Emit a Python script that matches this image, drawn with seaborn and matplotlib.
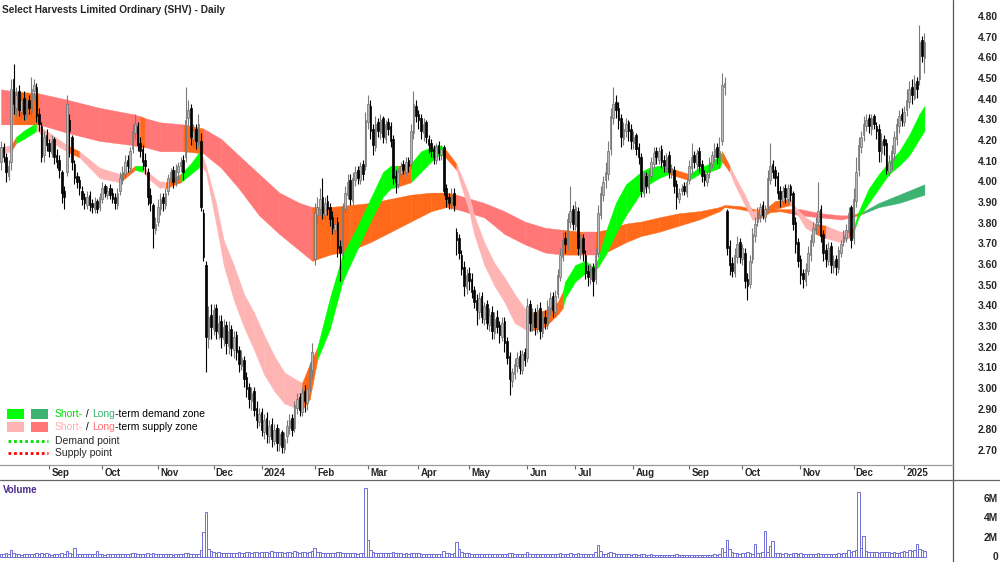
import numpy as np
import pandas as pd
import matplotlib
matplotlib.use("Agg")
import matplotlib.pyplot as plt
import seaborn as sns
from matplotlib.lines import Line2D
from matplotlib.patches import Rectangle
from matplotlib.transforms import blended_transform_factory

# trading calendar (ASX)
first_day = "2023-08-07"
last_day = "2025-01-14"
asx_holidays = ["2023-12-25", "2023-12-26", "2024-01-01", "2024-01-26", "2024-03-29",
                "2024-04-01", "2024-04-25", "2024-06-10", "2024-12-25", "2024-12-26",
                "2025-01-01"]

# daily OHLC
opens = [
    4.10, 4.17, 4.12, 4.03, 4.10, 4.50, 4.36, 4.44, 4.34, 4.41,
    4.32, 4.40, 4.34, 4.44, 4.46, 4.33, 4.27, 4.13, 4.23, 4.19,
    4.14, 4.21, 4.13, 4.11, 4.05, 3.96, 4.05, 4.30, 4.22, 4.09,
    4.03, 4.01, 3.96, 3.93, 3.89, 3.94, 3.90, 3.87, 3.91, 3.88,
    3.92, 3.98, 3.94, 3.97, 3.95, 3.93, 3.89, 3.96, 4.01, 4.04,
    4.11, 4.07, 4.16, 4.24, 4.27, 4.19, 4.16, 4.11, 4.05, 3.94,
    3.89, 3.77, 3.81, 3.87, 3.93, 3.89, 3.96, 4.01, 4.06, 4.00,
    4.05, 4.08, 4.11, 4.12, 4.31, 4.36, 4.21, 4.26, 4.19, 4.20,
    3.85, 3.60, 3.24, 3.36, 3.29, 3.39, 3.27, 3.33, 3.24, 3.31,
    3.21, 3.29, 3.19, 3.26, 3.19, 3.11, 3.14, 3.06, 3.01, 2.94,
    2.99, 2.91, 2.84, 2.89, 2.79, 2.86, 2.77, 2.83, 2.75, 2.81,
    2.73, 2.79, 2.71, 2.77, 2.81, 2.86, 2.81, 2.91, 2.96, 2.89,
    2.99, 2.93, 3.01, 3.09, 3.63, 3.84, 3.87, 3.93, 3.84, 3.91,
    3.88, 3.83, 3.77, 3.81, 3.69, 3.65, 3.87, 3.94, 4.01, 3.91,
    4.01, 4.06, 4.01, 4.09, 4.08, 4.29, 4.37, 4.26, 4.17, 4.29,
    4.24, 4.31, 4.21, 4.29, 4.27, 4.21, 4.03, 3.99, 4.04, 4.09,
    4.05, 4.11, 4.09, 4.24, 4.37, 4.33, 4.31, 4.24, 4.29, 4.21,
    4.19, 4.16, 4.11, 4.18, 4.13, 4.17, 3.97, 3.93, 3.89, 3.95,
    3.76, 3.73, 3.65, 3.59, 3.49, 3.56, 3.53, 3.48, 3.43, 3.37,
    3.45, 3.34, 3.41, 3.31, 3.37, 3.27, 3.35, 3.31, 3.25, 3.33,
    3.23, 3.16, 3.04, 3.07, 3.11, 3.16, 3.09, 3.18, 3.15, 3.41,
    3.31, 3.37, 3.29, 3.39, 3.27, 3.35, 3.31, 3.39, 3.45, 3.37,
    3.46, 3.54, 3.64, 3.73, 3.69, 3.81, 3.87, 3.79, 3.86, 3.67,
    3.73, 3.65, 3.57, 3.53, 3.59, 3.53, 3.66, 3.84, 3.94, 4.01,
    4.04, 4.16, 4.31, 4.39, 4.36, 4.31, 4.21, 4.25, 4.29, 4.26,
    4.19, 4.23, 4.17, 4.12, 3.95, 4.03, 3.97, 4.03, 4.09, 4.15,
    4.11, 4.16, 4.11, 4.07, 4.13, 4.04, 4.06, 3.99, 3.92, 3.96,
    3.98, 3.95, 4.01, 4.07, 4.13, 4.09, 4.15, 4.09, 4.04, 4.00,
    4.05, 4.09, 4.12, 4.17, 4.11, 4.20, 4.46, 3.86, 3.69, 3.61,
    3.56, 3.64, 3.71, 3.63, 3.66, 3.53, 3.51, 3.63, 3.74, 3.81,
    3.84, 3.89, 3.83, 3.88, 4.01, 4.09, 4.06, 4.03, 3.96, 3.91,
    3.97, 3.92, 3.98, 3.95, 3.81, 3.71, 3.63, 3.56, 3.52, 3.57,
    3.65, 3.71, 3.77, 3.81, 3.87, 3.75, 3.67, 3.62, 3.69, 3.59,
    3.63, 3.58, 3.66, 3.71, 3.73, 3.76, 3.88, 3.73, 3.91, 4.06,
    4.17, 4.23, 4.27, 4.31, 4.26, 4.32, 4.27, 4.26, 4.14, 4.21,
    4.19, 4.05, 4.09, 4.14, 4.21, 4.27, 4.33, 4.29, 4.35, 4.39,
    4.46, 4.41, 4.49, 4.50, 4.69, 4.60,
]
highs = [
    4.20, 4.19, 4.14, 4.11, 4.50, 4.57, 4.46, 4.47, 4.43, 4.44,
    4.41, 4.42, 4.51, 4.50, 4.48, 4.36, 4.29, 4.25, 4.26, 4.21,
    4.23, 4.22, 4.16, 4.13, 4.06, 3.98, 4.42, 4.33, 4.23, 4.11,
    4.05, 4.03, 3.98, 3.95, 3.96, 3.96, 3.92, 3.93, 3.92, 3.95,
    4.00, 3.99, 3.98, 3.99, 3.97, 3.95, 3.97, 4.05, 4.08, 4.13,
    4.13, 4.17, 4.28, 4.33, 4.29, 4.22, 4.18, 4.14, 4.07, 3.97,
    3.90, 3.83, 3.92, 3.95, 3.95, 3.97, 4.04, 4.07, 4.08, 4.09,
    4.10, 4.12, 4.13, 4.46, 4.40, 4.38, 4.28, 4.28, 4.33, 4.24,
    3.87, 3.62, 3.40, 3.41, 3.41, 3.41, 3.36, 3.36, 3.34, 3.33,
    3.33, 3.31, 3.28, 3.28, 3.21, 3.19, 3.16, 3.08, 3.03, 3.01,
    3.01, 2.94, 2.91, 2.91, 2.88, 2.89, 2.85, 2.86, 2.83, 2.83,
    2.81, 2.80, 2.79, 2.85, 2.88, 2.88, 2.94, 2.98, 2.98, 3.01,
    3.02, 3.03, 3.13, 3.22, 3.90, 3.93, 3.97, 4.02, 3.93, 3.94,
    3.90, 3.86, 3.83, 3.83, 3.72, 3.90, 3.98, 4.04, 4.04, 4.05,
    4.08, 4.08, 4.10, 4.11, 4.34, 4.42, 4.40, 4.28, 4.32, 4.31,
    4.33, 4.32, 4.30, 4.31, 4.29, 4.23, 4.06, 4.07, 4.10, 4.11,
    4.12, 4.12, 4.28, 4.44, 4.40, 4.35, 4.33, 4.31, 4.30, 4.23,
    4.21, 4.18, 4.19, 4.20, 4.18, 4.18, 3.99, 3.95, 3.97, 3.97,
    3.78, 3.75, 3.67, 3.62, 3.58, 3.59, 3.56, 3.50, 3.46, 3.47,
    3.47, 3.42, 3.43, 3.39, 3.40, 3.37, 3.38, 3.33, 3.35, 3.35,
    3.25, 3.18, 3.10, 3.15, 3.18, 3.19, 3.19, 3.20, 3.44, 3.43,
    3.39, 3.39, 3.41, 3.42, 3.37, 3.38, 3.43, 3.47, 3.47, 3.48,
    3.58, 3.68, 3.76, 3.76, 3.85, 3.98, 3.89, 3.91, 3.88, 3.75,
    3.75, 3.67, 3.60, 3.61, 3.61, 3.68, 3.89, 3.98, 4.03, 4.10,
    4.20, 4.36, 4.46, 4.42, 4.39, 4.33, 4.29, 4.31, 4.30, 4.28,
    4.25, 4.24, 4.19, 4.14, 4.05, 4.05, 4.06, 4.12, 4.17, 4.17,
    4.17, 4.18, 4.13, 4.14, 4.15, 4.09, 4.08, 4.01, 3.97, 3.99,
    4.00, 4.02, 4.11, 4.19, 4.15, 4.16, 4.17, 4.11, 4.06, 4.06,
    4.12, 4.15, 4.19, 4.19, 4.22, 4.53, 4.51, 3.87, 3.72, 3.64,
    3.68, 3.74, 3.73, 3.70, 3.68, 3.56, 3.65, 3.78, 3.83, 3.88,
    3.90, 3.91, 3.89, 4.06, 4.19, 4.11, 4.08, 4.05, 3.98, 3.98,
    3.99, 3.99, 3.99, 3.96, 3.83, 3.73, 3.65, 3.58, 3.61, 3.69,
    3.75, 3.81, 3.83, 4.00, 3.89, 3.77, 3.70, 3.71, 3.71, 3.65,
    3.65, 3.69, 3.72, 3.77, 3.80, 3.88, 3.89, 3.97, 4.12, 4.22,
    4.25, 4.32, 4.33, 4.33, 4.33, 4.33, 4.29, 4.28, 4.24, 4.23,
    4.21, 4.13, 4.18, 4.25, 4.31, 4.35, 4.36, 4.37, 4.45, 4.49,
    4.50, 4.52, 4.51, 4.76, 4.71, 4.72,
]
lows = [
    4.06, 4.10, 4.00, 4.01, 4.06, 4.33, 4.32, 4.32, 4.31, 4.30,
    4.30, 4.33, 4.32, 4.40, 4.29, 4.25, 4.10, 4.10, 4.15, 4.12,
    4.12, 4.09, 4.07, 4.02, 3.90, 3.87, 4.03, 4.12, 4.06, 3.99,
    3.97, 3.94, 3.89, 3.87, 3.87, 3.86, 3.85, 3.85, 3.85, 3.86,
    3.90, 3.93, 3.92, 3.92, 3.90, 3.87, 3.87, 3.94, 3.99, 4.02,
    4.05, 4.05, 4.14, 4.21, 4.15, 4.12, 4.06, 4.04, 3.89, 3.86,
    3.68, 3.75, 3.79, 3.84, 3.86, 3.87, 3.94, 3.99, 3.97, 3.98,
    4.01, 4.05, 4.01, 4.10, 4.27, 4.18, 4.17, 4.16, 4.17, 3.86,
    3.62, 3.08, 3.20, 3.24, 3.26, 3.24, 3.24, 3.20, 3.21, 3.17,
    3.17, 3.16, 3.15, 3.14, 3.08, 3.09, 3.01, 2.96, 2.91, 2.90,
    2.87, 2.81, 2.82, 2.77, 2.76, 2.74, 2.74, 2.72, 2.73, 2.70,
    2.70, 2.69, 2.69, 2.74, 2.78, 2.77, 2.79, 2.88, 2.87, 2.87,
    2.89, 2.90, 2.99, 3.06, 3.60, 3.80, 3.84, 3.82, 3.82, 3.84,
    3.79, 3.75, 3.75, 3.64, 3.52, 3.63, 3.85, 3.92, 3.89, 3.89,
    3.98, 3.99, 3.99, 4.01, 4.06, 4.26, 4.21, 4.13, 4.15, 4.22,
    4.21, 4.19, 4.19, 4.23, 4.17, 3.99, 3.95, 3.97, 4.02, 4.04,
    4.03, 4.05, 4.07, 4.21, 4.29, 4.26, 4.21, 4.20, 4.19, 4.14,
    4.12, 4.09, 4.09, 4.11, 4.11, 3.94, 3.88, 3.87, 3.87, 3.86,
    3.65, 3.63, 3.55, 3.45, 3.46, 3.48, 3.44, 3.39, 3.31, 3.34,
    3.32, 3.31, 3.29, 3.28, 3.24, 3.24, 3.27, 3.22, 3.23, 3.18,
    3.12, 2.97, 3.01, 3.05, 3.08, 3.07, 3.07, 3.11, 3.13, 3.28,
    3.28, 3.26, 3.27, 3.24, 3.25, 3.29, 3.29, 3.36, 3.35, 3.35,
    3.44, 3.52, 3.62, 3.66, 3.67, 3.78, 3.77, 3.77, 3.65, 3.63,
    3.62, 3.53, 3.50, 3.51, 3.45, 3.51, 3.64, 3.82, 3.91, 3.97,
    4.01, 4.13, 4.28, 4.31, 4.26, 4.17, 4.18, 4.22, 4.20, 4.16,
    4.16, 4.13, 4.09, 3.93, 3.93, 3.95, 3.95, 4.01, 4.07, 4.09,
    4.09, 4.07, 4.05, 4.05, 4.02, 4.02, 3.95, 3.87, 3.90, 3.94,
    3.94, 3.93, 3.99, 4.04, 4.07, 4.06, 4.05, 4.00, 3.98, 3.98,
    4.02, 4.07, 4.10, 4.09, 4.07, 4.18, 4.42, 3.65, 3.55, 3.54,
    3.54, 3.61, 3.61, 3.60, 3.49, 3.43, 3.49, 3.61, 3.71, 3.79,
    3.81, 3.82, 3.81, 3.86, 3.99, 4.02, 3.98, 3.92, 3.88, 3.89,
    3.90, 3.90, 3.91, 3.77, 3.66, 3.59, 3.51, 3.49, 3.50, 3.55,
    3.62, 3.69, 3.75, 3.79, 3.71, 3.62, 3.59, 3.60, 3.56, 3.56,
    3.55, 3.56, 3.64, 3.69, 3.71, 3.74, 3.68, 3.70, 3.88, 4.03,
    4.14, 4.20, 4.25, 4.24, 4.23, 4.26, 4.21, 4.10, 4.10, 4.13,
    4.04, 4.03, 4.06, 4.11, 4.18, 4.24, 4.27, 4.27, 4.32, 4.36,
    4.38, 4.40, 4.41, 4.47, 4.58, 4.53,
]
closes = [
    4.17, 4.12, 4.05, 4.08, 4.45, 4.38, 4.42, 4.35, 4.40, 4.33,
    4.38, 4.36, 4.45, 4.47, 4.32, 4.28, 4.12, 4.22, 4.18, 4.15,
    4.20, 4.12, 4.10, 4.06, 3.95, 3.93, 4.38, 4.25, 4.10, 4.02,
    4.00, 3.97, 3.92, 3.90, 3.93, 3.89, 3.88, 3.90, 3.87, 3.93,
    3.97, 3.95, 3.96, 3.94, 3.92, 3.90, 3.95, 4.02, 4.05, 4.10,
    4.08, 4.15, 4.25, 4.28, 4.18, 4.15, 4.10, 4.08, 3.93, 3.90,
    3.78, 3.80, 3.88, 3.92, 3.90, 3.95, 4.02, 4.05, 4.00, 4.06,
    4.08, 4.10, 4.05, 4.30, 4.35, 4.22, 4.25, 4.20, 4.28, 3.88,
    3.64, 3.25, 3.35, 3.30, 3.38, 3.28, 3.32, 3.25, 3.30, 3.22,
    3.28, 3.20, 3.25, 3.18, 3.12, 3.15, 3.05, 3.00, 2.95, 2.98,
    2.90, 2.85, 2.88, 2.80, 2.85, 2.78, 2.82, 2.76, 2.80, 2.74,
    2.78, 2.72, 2.76, 2.82, 2.85, 2.80, 2.92, 2.95, 2.90, 2.98,
    2.94, 3.00, 3.10, 3.18, 3.85, 3.88, 3.92, 3.85, 3.90, 3.87,
    3.82, 3.78, 3.80, 3.68, 3.66, 3.88, 3.95, 4.00, 3.92, 4.02,
    4.05, 4.02, 4.08, 4.04, 4.30, 4.38, 4.25, 4.18, 4.28, 4.25,
    4.30, 4.22, 4.28, 4.26, 4.20, 4.02, 4.00, 4.05, 4.08, 4.06,
    4.10, 4.08, 4.25, 4.38, 4.32, 4.30, 4.25, 4.28, 4.22, 4.18,
    4.15, 4.12, 4.17, 4.14, 4.16, 3.96, 3.92, 3.90, 3.94, 3.89,
    3.72, 3.66, 3.58, 3.50, 3.55, 3.52, 3.47, 3.42, 3.38, 3.44,
    3.35, 3.40, 3.32, 3.36, 3.28, 3.34, 3.30, 3.26, 3.32, 3.22,
    3.15, 3.05, 3.08, 3.12, 3.15, 3.10, 3.17, 3.14, 3.40, 3.32,
    3.36, 3.30, 3.38, 3.28, 3.34, 3.32, 3.40, 3.44, 3.38, 3.45,
    3.55, 3.65, 3.72, 3.70, 3.82, 3.86, 3.80, 3.88, 3.68, 3.72,
    3.66, 3.56, 3.54, 3.58, 3.52, 3.65, 3.85, 3.95, 4.00, 4.05,
    4.15, 4.32, 4.38, 4.35, 4.30, 4.22, 4.26, 4.28, 4.25, 4.20,
    4.22, 4.16, 4.12, 3.96, 4.02, 3.98, 4.04, 4.10, 4.14, 4.12,
    4.15, 4.10, 4.08, 4.12, 4.05, 4.07, 3.98, 3.93, 3.95, 3.97,
    3.96, 4.00, 4.08, 4.12, 4.10, 4.14, 4.08, 4.03, 4.01, 4.04,
    4.10, 4.13, 4.16, 4.12, 4.15, 4.47, 4.48, 3.68, 3.60, 3.57,
    3.65, 3.70, 3.64, 3.68, 3.52, 3.50, 3.62, 3.75, 3.80, 3.85,
    3.88, 3.84, 3.87, 4.02, 4.08, 4.05, 4.02, 3.95, 3.92, 3.96,
    3.93, 3.97, 3.94, 3.80, 3.70, 3.62, 3.55, 3.53, 3.58, 3.66,
    3.72, 3.78, 3.80, 3.86, 3.74, 3.66, 3.63, 3.68, 3.60, 3.62,
    3.59, 3.67, 3.70, 3.74, 3.77, 3.85, 3.72, 3.92, 4.05, 4.18,
    4.22, 4.28, 4.30, 4.27, 4.31, 4.28, 4.25, 4.15, 4.20, 4.18,
    4.06, 4.10, 4.15, 4.22, 4.28, 4.32, 4.30, 4.34, 4.40, 4.45,
    4.42, 4.48, 4.45, 4.68, 4.61, 4.68,
]
# daily volume, millions of shares
volume_m = [
    0.35, 0.30, 0.42, 0.28, 0.75, 0.45, 0.32, 0.30, 0.25, 0.28,
    0.30, 0.26, 0.35, 0.30, 0.38, 0.33, 0.45, 0.30, 0.40, 0.28,
    0.25, 0.30, 0.27, 0.32, 0.38, 0.35, 0.60, 0.40, 0.32, 0.90,
    0.30, 0.28, 0.33, 0.26, 0.30, 0.28, 0.32, 0.35, 0.60, 0.30,
    0.28, 0.25, 0.30, 0.27, 0.32, 0.29, 0.26, 0.30, 0.33, 0.28,
    0.31, 0.35, 0.40, 0.36, 0.30, 0.28, 0.32, 0.30, 0.38, 0.34,
    0.45, 0.30, 0.28, 0.26, 0.30, 0.27, 0.29, 0.31, 0.25, 0.28,
    0.30, 0.26, 0.28, 0.45, 0.38, 0.32, 0.30, 0.28, 0.35, 0.70,
    2.60, 4.60, 0.85, 0.60, 0.50, 0.45, 0.48, 0.40, 0.45, 0.42,
    0.40, 0.45, 0.38, 0.42, 0.50, 0.44, 0.46, 0.52, 0.48, 0.45,
    0.50, 0.47, 0.43, 0.55, 0.48, 0.50, 0.45, 0.60, 0.52, 0.48,
    0.55, 0.50, 0.46, 0.52, 0.48, 0.44, 0.58, 0.50, 0.45, 0.48,
    0.52, 0.46, 0.55, 0.60, 0.95, 0.55, 0.48, 0.42, 0.45, 0.40,
    0.42, 0.38, 0.40, 0.50, 0.55, 0.45, 0.40, 0.42, 0.38, 0.40,
    0.38, 0.35, 0.40, 0.42, 7.10, 1.80, 0.70, 0.50, 0.45, 0.42,
    0.40, 0.38, 0.42, 0.36, 0.40, 0.55, 0.45, 0.40, 0.38, 0.35,
    0.36, 0.34, 0.40, 0.45, 0.42, 0.38, 0.35, 0.33, 0.30, 0.34,
    0.32, 0.30, 0.28, 0.31, 0.33, 0.60, 0.45, 0.38, 0.35, 0.40,
    1.50, 0.80, 0.55, 0.45, 0.40, 0.38, 0.35, 0.33, 0.30, 0.28,
    0.30, 0.27, 0.32, 0.29, 0.31, 0.28, 0.26, 0.30, 0.27, 0.33,
    0.35, 0.45, 0.38, 0.30, 0.28, 0.26, 0.30, 0.28, 0.55, 0.35,
    0.30, 0.27, 0.32, 0.28, 0.30, 0.26, 0.29, 0.31, 0.27, 0.30,
    0.35, 0.40, 0.33, 0.30, 0.35, 0.42, 0.32, 0.30, 0.38, 0.30,
    0.28, 0.30, 0.27, 0.29, 0.32, 0.55, 1.20, 0.60, 0.35, 0.32,
    0.38, 0.50, 0.45, 0.35, 0.30, 0.28, 0.26, 0.30, 0.27, 0.25,
    0.28, 0.26, 0.24, 0.35, 0.27, 0.25, 0.23, 0.26, 0.24, 0.22,
    0.25, 0.23, 0.21, 0.24, 0.22, 0.25, 0.23, 0.26, 0.22, 0.24,
    0.22, 0.25, 0.23, 0.21, 0.24, 0.22, 0.20, 0.23, 0.25, 0.22,
    0.24, 0.22, 0.26, 0.23, 0.28, 0.90, 0.50, 1.80, 0.80, 0.50,
    0.45, 0.40, 0.35, 0.38, 0.45, 0.50, 0.40, 0.35, 1.30, 0.45,
    0.40, 0.50, 2.70, 0.55, 1.15, 1.70, 0.45, 0.40, 0.38, 0.35,
    0.38, 0.35, 0.33, 0.40, 0.36, 0.34, 0.38, 0.32, 0.35, 0.33,
    0.30, 0.34, 0.32, 0.36, 0.33, 0.31, 0.34, 0.30, 0.32, 0.35,
    0.33, 0.36, 0.34, 0.38, 0.45, 0.70, 0.55, 0.60, 0.75, 6.70,
    0.90, 2.20, 0.60, 0.50, 0.55, 0.48, 0.50, 0.45, 0.52, 0.48,
    0.55, 0.50, 0.45, 0.48, 0.42, 0.45, 0.50, 0.60, 0.55, 0.70,
    0.65, 0.75, 1.30, 0.80, 0.70, 0.60,
]

# long-term zone: trading-day index, upper / lower edge, zone state per segment
lt_day = [0, 5, 15, 26, 39, 52, 55, 57, 63, 72, 80, 87, 94, 102, 110, 118, 123, 130,
          138, 146, 154, 162, 170, 176, 180, 191, 199, 207, 215, 222, 230, 235, 239,
          247, 253, 260, 268, 276, 284, 286, 292, 300, 308, 312, 316, 324, 332, 336,
          341, 347, 355, 365]
lt_upper = [4.45, 4.44, 4.43, 4.40, 4.36, 4.33, 4.32, 4.31, 4.29, 4.28, 4.26, 4.21,
            4.13, 4.04, 3.95, 3.90, 3.88, 3.88, 3.89, 3.90, 3.92, 3.94, 3.95, 3.95,
            3.94, 3.90, 3.86, 3.81, 3.78, 3.77, 3.76, 3.76, 3.77, 3.80, 3.81, 3.83,
            3.85, 3.86, 3.88, 3.89, 3.885, 3.865, 3.87, 3.87, 3.87, 3.85, 3.84, 3.84,
            3.86, 3.90, 3.94, 3.99]
lt_lower = [4.28, 4.28, 4.28, 4.24, 4.20, 4.18, 4.17, 4.17, 4.15, 4.15, 4.14, 4.07,
            3.97, 3.84, 3.75, 3.67, 3.62, 3.65, 3.67, 3.71, 3.76, 3.81, 3.86, 3.88,
            3.87, 3.83, 3.75, 3.70, 3.66, 3.65, 3.65, 3.65, 3.66, 3.71, 3.74, 3.76,
            3.79, 3.82, 3.86, 3.88, 3.87, 3.85, 3.86, 3.85, 3.84, 3.83, 3.82, 3.83,
            3.85, 3.88, 3.90, 3.94]
lt_runs = [("s", 1), ("x", 1), ("s", 4), ("x", 1), ("s", 2), ("x", 1), ("s", 6),
           ("x", 8), ("s", 5), ("x", 1), ("s", 1), ("x", 12), ("s", 4), ("x", 1),
           ("d", 3)]

# short-term zone
st_day = [0, 4, 6, 9, 13, 14, 19, 26, 31, 39, 47, 50, 53, 56, 59, 63, 65, 71, 75, 78,
          79, 81, 85, 88, 92, 96, 100, 104, 108, 112, 116, 119, 122, 125, 130, 135,
          141, 146, 151, 154, 157, 162, 166, 170, 173, 175, 180, 185, 187, 191, 195,
          199, 203, 207, 209, 215, 220, 222, 223, 227, 231, 234, 236, 239, 243, 247,
          253, 256, 260, 264, 272, 276, 280, 284, 285, 288, 290, 294, 297, 299, 302,
          306, 312, 314, 318, 322, 326, 332, 335, 337, 339, 343, 347, 351, 355, 359,
          363, 365]
st_upper = [4.17, 4.18, 4.22, 4.25, 4.28, 4.28, 4.24, 4.18, 4.15, 4.07, 4.04, 4.05,
            4.08, 4.08, 4.04, 4.00, 4.00, 4.04, 4.09, 4.14, 4.15, 4.08, 3.90, 3.72,
            3.60, 3.46, 3.37, 3.26, 3.16, 3.08, 3.05, 3.03, 3.12, 3.20, 3.44, 3.65,
            3.79, 3.92, 4.05, 4.08, 4.08, 4.09, 4.15, 4.17, 4.18, 4.17, 4.09, 3.94,
            3.84, 3.71, 3.61, 3.54, 3.46, 3.39, 3.37, 3.38, 3.42, 3.47, 3.52, 3.60,
            3.62, 3.59, 3.63, 3.76, 3.90, 3.99, 4.05, 4.07, 4.08, 4.07, 4.04, 4.07,
            4.09, 4.13, 4.15, 4.08, 4.03, 3.94, 3.86, 3.87, 3.87, 3.91, 3.92, 3.88,
            3.83, 3.80, 3.79, 3.76, 3.77, 3.78, 3.86, 3.97, 4.04, 4.10, 4.15, 4.23,
            4.33, 4.37]
st_lower = [4.14, 4.15, 4.19, 4.21, 4.24, 4.25, 4.20, 4.15, 4.12, 4.02, 4.00, 4.03,
            4.06, 4.05, 4.01, 3.97, 3.97, 4.00, 4.04, 4.07, 4.08, 4.05, 3.80, 3.60,
            3.43, 3.30, 3.19, 3.07, 2.99, 2.93, 2.91, 2.90, 2.95, 3.14, 3.29, 3.52,
            3.68, 3.81, 3.93, 3.97, 3.98, 4.00, 4.05, 4.10, 4.13, 4.13, 4.06, 3.86,
            3.75, 3.60, 3.50, 3.42, 3.32, 3.29, 3.28, 3.30, 3.36, 3.39, 3.44, 3.52,
            3.56, 3.56, 3.59, 3.65, 3.75, 3.84, 3.95, 3.99, 4.02, 4.04, 4.01, 4.04,
            4.05, 4.07, 4.10, 4.05, 3.99, 3.89, 3.82, 3.82, 3.84, 3.87, 3.89, 3.86,
            3.78, 3.75, 3.73, 3.71, 3.73, 3.76, 3.83, 3.90, 3.97, 4.04, 4.08, 4.13,
            4.21, 4.25]
st_runs = [("s", 1), ("x", 1), ("d", 3), ("s", 2), ("x", 1), ("s", 2), ("x", 2),
           ("d", 1), ("s", 3), ("x", 1), ("d", 3), ("s", 11), ("x", 2), ("d", 7),
           ("x", 1), ("d", 4), ("x", 1), ("s", 8), ("x", 3), ("d", 12), ("x", 1),
           ("d", 4), ("x", 1), ("s", 4), ("x", 3), ("s", 3), ("x", 1), ("s", 2),
           ("x", 1), ("d", 8)]

price_ticks = [2.70, 2.80, 2.90, 3.00, 3.10, 3.20, 3.30, 3.40, 3.50, 3.60, 3.70,
               3.80, 3.90, 4.00, 4.10, 4.20, 4.30, 4.40, 4.50, 4.60, 4.70, 4.80]
volume_ticks = [0, 2, 4, 6]
volume_tick_labels = ["0", "2M", "4M", "6M"]

title = "Select Harvests Limited Ordinary (SHV) - Daily"

ST_DEMAND = "#00FF00"
LT_DEMAND = "#3CB371"
ST_SUPPLY = "#FFB4B4"
LT_SUPPLY = "#FF7777"
MIXED = "#FF6A1A"

sns.set_style("white")
plt.rcParams["font.family"] = ["Liberation Sans", "DejaVu Sans"]

W, H = 1000, 562


def fx(px):
    return px / W


def fy(py):
    return 1 - py / H


fig = plt.figure(figsize=(W / 100, H / 100), dpi=100)
ax = fig.add_axes([0, fy(465), fx(952.5), 465 / H])
axv = fig.add_axes([0, 0, fx(952.5), 82 / H])

x = np.arange(len(closes))
o = np.array(opens)
h = np.array(highs)
l = np.array(lows)
c = np.array(closes)


def draw_band(ax, days, upper, lower, runs, demand, supply):
    states = "".join(s * n for s, n in runs)
    colors = {"d": demand, "s": supply, "x": MIXED}
    for i, st in enumerate(states):
        col = colors[st]
        ax.fill_between(days[i:i + 2], lower[i:i + 2], upper[i:i + 2],
                        facecolor=col, edgecolor=col, linewidth=0.3, zorder=1)


draw_band(ax, lt_day, lt_upper, lt_lower, lt_runs, LT_DEMAND, LT_SUPPLY)
draw_band(ax, st_day, st_upper, st_lower, st_runs, ST_DEMAND, ST_SUPPLY)

# candles
up = c >= o
body_lo = np.minimum(o, c)
body_h = np.maximum(np.abs(c - o), 0.006)
ax.vlines(x[up], l[up], h[up], color="#7a7a7a", lw=0.8, zorder=3)
ax.vlines(x[~up], l[~up], h[~up], color="black", lw=0.8, zorder=3)
ax.bar(x[up], body_h[up], bottom=body_lo[up], width=0.62, color="#b8b8b8",
       edgecolor="#6e6e6e", linewidth=0.5, zorder=4)
ax.bar(x[~up], body_h[~up], bottom=body_lo[~up], width=0.62, color="black",
       edgecolor="black", linewidth=0.5, zorder=4)

ax.set_xlim(-0.4, 376.1)
ax.set_ylim(2.632, 4.882)
ax.set_yticks([])
for sp in ax.spines.values():
    sp.set_visible(False)

# month ticks at first trading day of each month
days = pd.bdate_range(first_day, last_day)
days = days[~days.isin(pd.to_datetime(asx_holidays))]
month_start = [i for i in range(1, len(days)) if days[i].month != days[i - 1].month]
ax.set_xticks(month_start)
ax.set_xticklabels([])
ax.tick_params(axis="x", bottom=True, direction="out", length=3, width=0.8,
               color="#666666")
lbl_tr = blended_transform_factory(ax.transData, ax.transAxes)
for i in month_start:
    lab = str(days[i].year) if days[i].month == 1 else days[i].strftime("%b")
    ax.text(i + 0.9, -8.5 / 465, lab, transform=lbl_tr, fontsize=7,
            fontweight="bold", va="center", ha="left", clip_on=False)

# price labels on the right
ptr = blended_transform_factory(fig.transFigure, ax.transData)
for p in price_ticks:
    fig.text(fx(998), p, f"{p:.2f}", transform=ptr, ha="right", va="center",
             fontsize=7.4, fontweight="bold")

# volume panel
sns.histplot(x=x, weights=volume_m, discrete=True, fill=False, element="bars",
             color="#7070d6", linewidth=0.7, ax=axv)
axv.set_xlim(-0.4, 376.1)
axv.set_ylim(-0.52, 7.96)
axv.set_xlabel("")
axv.set_ylabel("")
axv.set_xticks([])
axv.set_yticks([])
for sp in axv.spines.values():
    sp.set_visible(False)
vtr = blended_transform_factory(fig.transFigure, axv.transData)
for v, lab in zip(volume_ticks, volume_tick_labels):
    fig.text(fx(998), v, lab, transform=vtr, ha="right", va="center",
             fontsize=7.4, fontweight="bold")
fig.text(fx(3), fy(490), "Volume", color="#4b2c8c", fontsize=7, fontweight="bold",
         va="center")

# frame lines
fig.add_artist(Line2D([fx(952.5)] * 2, [0, 1], color="#555555", lw=0.9))
fig.add_artist(Line2D([0, fx(952.5)], [fy(465)] * 2, color="#999999", lw=0.9))
fig.add_artist(Line2D([0, 1], [fy(480)] * 2, color="#666666", lw=0.9))

fig.text(fx(2), fy(10), title, fontsize=7.3, fontweight="bold", va="center")

# legend
renderer = fig.canvas.get_renderer()


def text_width(s, size):
    t = fig.text(0, 0, s + "|", fontsize=size)
    t2 = fig.text(0, 0, "|", fontsize=size)
    w = t.get_window_extent(renderer).width - t2.get_window_extent(renderer).width
    t.remove()
    t2.remove()
    return w


def rich_text(px, py, parts, size=7.5):
    done = ""
    for s, col in parts:
        fig.text(fx(px + text_width(done, size) if done else px), fy(py), s,
                 color=col, fontsize=size, va="center", ha="left")
        done += s


for xs, col in [(7, ST_DEMAND), (31, LT_DEMAND)]:
    fig.add_artist(Rectangle((fx(xs), fy(419)), fx(17), 10 / H, facecolor=col,
                             edgecolor="none", transform=fig.transFigure))
for xs, col in [(7, ST_SUPPLY), (31, LT_SUPPLY)]:
    fig.add_artist(Rectangle((fx(xs), fy(432)), fx(17), 10 / H, facecolor=col,
                             edgecolor="none", transform=fig.transFigure))
rich_text(55, 414, [("Short-", "#00dd00"), (" / ", "black"), ("Long", "#3CB371"),
                    ("-term demand zone", "black")])
rich_text(55, 427, [("Short-", "#ffb0b0"), (" / ", "black"), ("Long", "#ff6f6f"),
                    ("-term supply zone", "black")])
fig.add_artist(Line2D([fx(8), fx(48)], [fy(441)] * 2, color="#00dd00", lw=2,
                      linestyle=(0, (1, 1))))
fig.add_artist(Line2D([fx(8), fx(48)], [fy(453)] * 2, color="#ff0000", lw=2,
                      linestyle=(0, (1, 1))))
fig.text(fx(55), fy(441), "Demand point", fontsize=7.5, va="center")
fig.text(fx(55), fy(453), "Supply point", fontsize=7.5, va="center")

fig.savefig("out.png", dpi=100)
